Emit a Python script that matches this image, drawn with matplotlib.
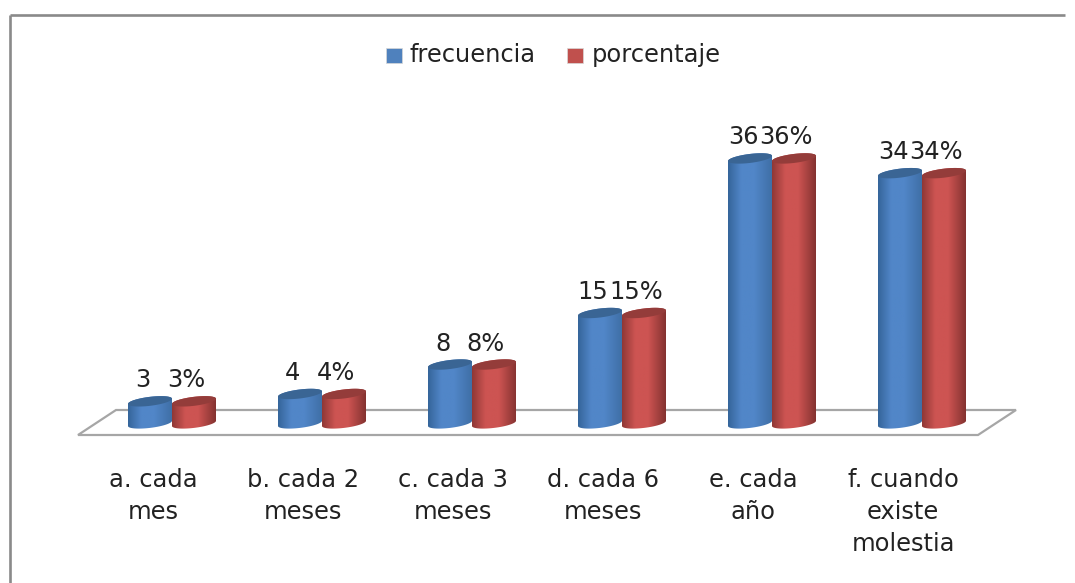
import numpy as np
import matplotlib
matplotlib.use("Agg")
import matplotlib.pyplot as plt
from matplotlib.path import Path
from matplotlib.patches import PathPatch, Polygon, Rectangle
from matplotlib.colors import LinearSegmentedColormap

categories = ["a. cada\nmes", "b. cada 2\nmeses", "c. cada 3\nmeses",
              "d. cada 6\nmeses", "e. cada\naño", "f. cuando\nexiste\nmolestia"]
frecuencia = [3, 4, 8, 15, 36, 34]
porcentaje = [3, 4, 8, 15, 36, 34]
series_names = ["frecuencia", "porcentaje"]
pct_labels = ["3%", "4%", "8%", "15%", "36%", "34%"]

W, H = 1075, 583
PX_X = 150.0     # pixels per category
PX_Y = 7.36      # pixels per unit
X0_PX, Y0_PX = 172.0, 423.4

plt.rcParams['font.family'] = ['DejaVu Sans']
fig = plt.figure(figsize=(W / 100, H / 100), dpi=100, facecolor='white')
ax = fig.add_axes([0, 0, 1, 1])
ax.set_xlim((0 - X0_PX) / PX_X, (W - X0_PX) / PX_X)
ax.set_ylim((Y0_PX - H) / PX_Y, Y0_PX / PX_Y)
ax.axis('off')

dx = 1 / PX_X
dy = 1 / PX_Y

# chart frame
ax.plot([10 * dx + ax.get_xlim()[0]] * 2, [ax.get_ylim()[0], ax.get_ylim()[1] - 15 * dy],
        color='#8a8a8a', lw=1.9, solid_capstyle='butt')
ax.plot([10 * dx + ax.get_xlim()[0], 1065 * dx + ax.get_xlim()[0]],
        [ax.get_ylim()[1] - 15 * dy] * 2, color='#8a8a8a', lw=1.9, solid_capstyle='butt')

# floor
floor = [(-94, -11.6), (806, -11.6), (844, 13.4), (-56, 13.4)]
ax.add_patch(Polygon([(x * dx, y * dy) for x, y in floor], closed=True,
                     fc='white', ec='#a6a6a6', lw=1.6, zorder=1))


def cylinder(xc, value, base, z):
    """base = colours (left edge, middle, right edge, top cap)."""
    hw = 22 * dx
    t = np.linspace(0, np.pi, 40)
    rx, ry, tilt = 22.0, 4.5, 2.6

    def arc(tt):
        ex = rx * np.cos(tt)
        ey = ry * np.sin(tt) + tilt * np.cos(tt)
        return ex * dx, ey * dy
    ex_u, ey_u = arc(t)          # upper half, right to left
    ex_l, ey_l = arc(t + np.pi)  # lower half, left to right
    body = np.vstack([
        np.column_stack([xc + ex_u, value + ey_u]),
        np.column_stack([xc + ex_l, 0 + ey_l]),
        [[xc + ex_u[0], value + ey_u[0]]],
    ])
    patch = PathPatch(Path(body), fc='none', ec='none', zorder=z)
    ax.add_patch(patch)
    cmap = LinearSegmentedColormap.from_list(
        'c', [(0, base[0]), (0.3, base[1]), (0.6, base[1]), (1, base[2])])
    im = ax.imshow(np.linspace(0, 1, 128)[None, :], cmap=cmap, aspect='auto',
                   extent=(xc - hw, xc + hw, -2, value + 2), zorder=z,
                   interpolation='bilinear')
    im.set_clip_path(patch)
    cap = np.column_stack([xc + np.r_[ex_u, ex_l], value + np.r_[ey_u, ey_l]])
    ax.add_patch(Polygon(cap, closed=True, fc=base[3], ec='none', zorder=z + 0.1))


blue = ('#35659a', '#5186c8', '#3f6fa6', '#3a6594')
red = ('#8f3836', '#cd5452', '#843230', '#943c3a')
bw = 44 * dx
z = 3
for i, (f, p) in enumerate(zip(frecuencia, porcentaje)):
    cylinder(i - bw / 2, f, blue, z)
    cylinder(i + bw / 2, p, red, z + 1)
    z += 2

FS = 17.4
TC = '#222222'
for i, (f, lab) in enumerate(zip(frecuencia, pct_labels)):
    ytxt = f + 14 * dy
    ax.text(i - 29 * dx, ytxt, str(f), ha='center', va='baseline', fontsize=FS, color=TC, zorder=50)
    ax.text(i + 14 * dx, ytxt, lab, ha='center', va='baseline', fontsize=FS, color=TC, zorder=50)

for i, c in enumerate(categories):
    ax.text(i - 19 * dx, -44.5 * dy, c, ha='center', va='top', fontsize=FS, color=TC,
            linespacing=1.43)

# legend
x0 = ax.get_xlim()[0]
yt = ax.get_ylim()[1]
for name, col, sx, tx in zip(series_names, ['#4f81bd', '#c0504d'], [386, 567], [410, 592]):
    ax.add_patch(Rectangle((x0 + sx * dx, yt - 63 * dy), 16 * dx, 15 * dy, fc=col, ec='#d8d8d8', lw=0.5))
    ax.text(x0 + tx * dx, yt - 55 * dy, name, ha='left', va='center', fontsize=FS, color=TC)

fig.savefig('out.png', dpi=100, facecolor='white')
